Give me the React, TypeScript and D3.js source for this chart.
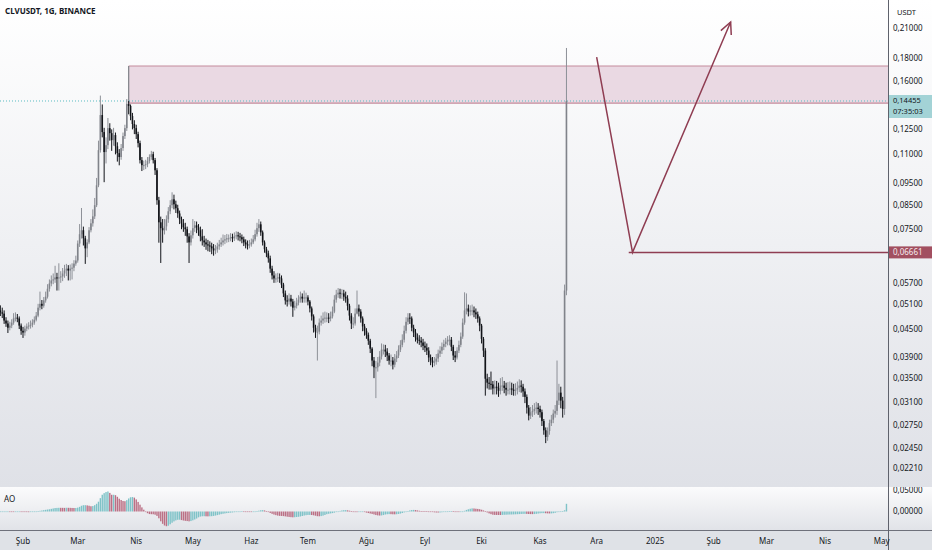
import React from 'react';
import * as d3 from 'd3';

const W = 932;
const H = 550;

// ---------------- data ----------------
const firstDay = '2024-01-20';
const firstOpen = 0.0495;
const closes = [
  0.0490,0.0487,0.0470,0.0463,0.0453,0.0458,0.0465,0.0475,0.0477,0.0475,
  0.0458,0.0446,0.0442,0.0451,0.0456,0.0458,0.0460,0.0465,0.0472,0.0482,
  0.0502,0.0512,0.0507,0.0521,0.0531,0.0553,0.0568,0.0577,0.0580,0.0586,
  0.0583,0.0586,0.0589,0.0598,0.0607,0.0613,0.0607,0.0613,0.0616,0.0629,
  0.0639,0.0697,0.0731,0.0746,0.0716,0.0680,0.0701,0.0746,0.0773,0.0801,
  0.0848,0.0939,0.1124,0.1345,0.1233,0.1113,0.1153,0.1258,0.1226,0.1183,
  0.1214,0.1147,0.1107,0.1085,0.1136,0.1208,0.1258,0.1424,0.1409,0.1338,
  0.1285,0.1258,0.1220,0.1165,0.1068,0.1041,0.1041,0.1046,0.1063,0.1085,
  0.1101,0.1068,0.1014,0.0870,0.0777,0.0754,0.0746,0.0761,0.0789,0.0822,
  0.0848,0.0874,0.0852,0.0835,0.0813,0.0789,0.0773,0.0757,0.0750,0.0723,
  0.0701,0.0727,0.0754,0.0765,0.0757,0.0746,0.0723,0.0708,0.0701,0.0694,
  0.0690,0.0687,0.0680,0.0673,0.0677,0.0687,0.0694,0.0701,0.0708,0.0712,
  0.0716,0.0716,0.0720,0.0716,0.0723,0.0727,0.0723,0.0720,0.0712,0.0701,
  0.0694,0.0690,0.0694,0.0701,0.0712,0.0731,0.0754,0.0769,0.0738,0.0701,
  0.0677,0.0663,0.0646,0.0613,0.0592,0.0583,0.0583,0.0586,0.0583,0.0565,
  0.0540,0.0521,0.0518,0.0526,0.0518,0.0502,0.0507,0.0515,0.0523,0.0531,
  0.0526,0.0529,0.0529,0.0518,0.0500,0.0480,0.0453,0.0444,0.0444,0.0465,
  0.0470,0.0475,0.0477,0.0477,0.0475,0.0480,0.0492,0.0523,0.0537,0.0542,
  0.0540,0.0540,0.0531,0.0526,0.0507,0.0482,0.0463,0.0463,0.0487,0.0500,
  0.0492,0.0475,0.0456,0.0446,0.0437,0.0424,0.0407,0.0383,0.0370,0.0370,
  0.0379,0.0391,0.0405,0.0405,0.0401,0.0393,0.0383,0.0383,0.0375,0.0387,
  0.0393,0.0405,0.0415,0.0426,0.0446,0.0467,0.0477,0.0475,0.0453,0.0442,
  0.0431,0.0426,0.0424,0.0420,0.0413,0.0409,0.0403,0.0389,0.0383,0.0379,
  0.0381,0.0387,0.0397,0.0403,0.0411,0.0417,0.0422,0.0426,0.0426,0.0411,
  0.0393,0.0389,0.0403,0.0415,0.0433,0.0465,0.0495,0.0500,0.0492,0.0495,
  0.0495,0.0490,0.0485,0.0475,0.0458,0.0428,0.0403,0.0349,0.0342,0.0340,
  0.0339,0.0332,0.0335,0.0333,0.0328,0.0337,0.0337,0.0333,0.0330,0.0330,
  0.0332,0.0330,0.0328,0.0330,0.0333,0.0337,0.0335,0.0327,0.0318,0.0301,
  0.0289,0.0294,0.0296,0.0299,0.0301,0.0299,0.0294,0.0281,0.0268,0.0259,
  0.0267,0.0278,0.0283,0.0292,0.0296,0.0312,0.0325,0.0312,0.0299,0.0548,
  0.14455,
];
const highs = [
  0.0508,0.0502,0.0495,0.0478,0.0470,0.0467,0.0473,0.0488,0.0490,0.0486,
  0.0480,0.0463,0.0455,0.0458,0.0463,0.0466,0.0470,0.0473,0.0480,0.0491,
  0.0512,0.0545,0.0522,0.0530,0.0545,0.0566,0.0580,0.0592,0.0598,0.0622,
  0.0600,0.0630,0.0605,0.0615,0.0625,0.0628,0.0624,0.0626,0.0630,0.0640,
  0.0655,0.0708,0.0770,0.0836,0.0760,0.0725,0.0712,0.0758,0.0790,0.0830,
  0.0880,0.0975,0.1180,0.1486,0.1420,0.1260,0.1200,0.1325,0.1290,0.1250,
  0.1260,0.1230,0.1170,0.1130,0.1160,0.1230,0.1280,0.1460,0.1445,0.1420,
  0.1360,0.1310,0.1280,0.1235,0.1180,0.1085,0.1065,0.1070,0.1085,0.1100,
  0.1120,0.1115,0.1080,0.1025,0.0885,0.0800,0.0790,0.0790,0.0805,0.0840,
  0.0870,0.0906,0.0895,0.0868,0.0850,0.0825,0.0800,0.0790,0.0775,0.0760,
  0.0735,0.0745,0.0790,0.0782,0.0780,0.0770,0.0760,0.0750,0.0725,0.0715,
  0.0710,0.0705,0.0700,0.0695,0.0692,0.0700,0.0710,0.0718,0.0730,0.0728,
  0.0732,0.0730,0.0735,0.0733,0.0738,0.0742,0.0740,0.0736,0.0730,0.0722,
  0.0712,0.0708,0.0710,0.0715,0.0728,0.0748,0.0775,0.0790,0.0780,0.0745,
  0.0708,0.0685,0.0672,0.0655,0.0622,0.0605,0.0598,0.0600,0.0598,0.0592,
  0.0570,0.0548,0.0535,0.0540,0.0536,0.0525,0.0520,0.0528,0.0535,0.0545,
  0.0540,0.0548,0.0542,0.0535,0.0522,0.0505,0.0485,0.0460,0.0458,0.0475,
  0.0482,0.0490,0.0492,0.0490,0.0488,0.0492,0.0505,0.0535,0.0550,0.0555,
  0.0553,0.0552,0.0550,0.0545,0.0535,0.0512,0.0488,0.0478,0.0500,0.0548,
  0.0510,0.0498,0.0480,0.0462,0.0452,0.0442,0.0428,0.0410,0.0390,0.0382,
  0.0390,0.0402,0.0418,0.0416,0.0415,0.0408,0.0398,0.0395,0.0390,0.0396,
  0.0402,0.0414,0.0425,0.0438,0.0458,0.0478,0.0488,0.0488,0.0480,0.0460,
  0.0450,0.0440,0.0436,0.0432,0.0428,0.0422,0.0418,0.0410,0.0395,0.0390,
  0.0390,0.0396,0.0405,0.0412,0.0420,0.0426,0.0430,0.0434,0.0436,0.0432,
  0.0415,0.0402,0.0410,0.0424,0.0442,0.0475,0.0543,0.0540,0.0510,0.0508,
  0.0510,0.0505,0.0500,0.0492,0.0480,0.0462,0.0432,0.0408,0.0358,0.0352,
  0.0362,0.0345,0.0346,0.0345,0.0342,0.0350,0.0352,0.0345,0.0342,0.0343,
  0.0344,0.0342,0.0340,0.0341,0.0344,0.0348,0.0346,0.0340,0.0332,0.0322,
  0.0305,0.0302,0.0305,0.0308,0.0310,0.0308,0.0304,0.0298,0.0284,0.0272,
  0.0272,0.0283,0.0290,0.0298,0.0305,0.0383,0.0340,0.0335,0.0318,0.0565,
  0.1896,
];
const lows = [
  0.0481,0.0476,0.0462,0.0455,0.0441,0.0447,0.0452,0.0460,0.0468,0.0466,
  0.0450,0.0437,0.0430,0.0435,0.0445,0.0449,0.0451,0.0454,0.0460,0.0468,
  0.0478,0.0495,0.0498,0.0502,0.0515,0.0526,0.0545,0.0560,0.0566,0.0570,
  0.0548,0.0548,0.0570,0.0575,0.0585,0.0590,0.0577,0.0577,0.0580,0.0605,
  0.0622,0.0632,0.0685,0.0715,0.0690,0.0628,0.0650,0.0695,0.0738,0.0760,
  0.0790,0.0840,0.0930,0.1110,0.1200,0.0954,0.1050,0.1130,0.1180,0.1120,
  0.1150,0.1100,0.1060,0.1040,0.1070,0.1120,0.1190,0.1240,0.1350,0.1310,
  0.1250,0.1220,0.1190,0.1140,0.1050,0.1010,0.1015,0.1020,0.1030,0.1050,
  0.1070,0.1050,0.0990,0.0850,0.0700,0.0631,0.0700,0.0730,0.0745,0.0775,
  0.0810,0.0835,0.0830,0.0815,0.0795,0.0770,0.0750,0.0740,0.0725,0.0700,
  0.0631,0.0690,0.0715,0.0740,0.0735,0.0725,0.0705,0.0690,0.0685,0.0675,
  0.0670,0.0668,0.0660,0.0655,0.0660,0.0665,0.0675,0.0685,0.0690,0.0695,
  0.0700,0.0702,0.0705,0.0702,0.0706,0.0712,0.0708,0.0705,0.0698,0.0688,
  0.0680,0.0676,0.0680,0.0686,0.0695,0.0705,0.0722,0.0740,0.0725,0.0690,
  0.0665,0.0650,0.0632,0.0600,0.0580,0.0570,0.0570,0.0572,0.0570,0.0555,
  0.0530,0.0510,0.0505,0.0510,0.0505,0.0479,0.0495,0.0500,0.0508,0.0515,
  0.0515,0.0515,0.0515,0.0508,0.0490,0.0470,0.0442,0.0430,0.0383,0.0438,
  0.0458,0.0462,0.0465,0.0466,0.0464,0.0468,0.0475,0.0488,0.0515,0.0528,
  0.0526,0.0525,0.0520,0.0515,0.0495,0.0470,0.0450,0.0452,0.0458,0.0485,
  0.0480,0.0465,0.0445,0.0435,0.0428,0.0415,0.0398,0.0372,0.0350,0.0316,
  0.0362,0.0372,0.0385,0.0395,0.0390,0.0382,0.0375,0.0372,0.0366,0.0370,
  0.0380,0.0388,0.0400,0.0410,0.0420,0.0440,0.0460,0.0462,0.0445,0.0432,
  0.0422,0.0418,0.0415,0.0410,0.0404,0.0400,0.0394,0.0380,0.0374,0.0370,
  0.0372,0.0375,0.0380,0.0390,0.0396,0.0404,0.0410,0.0414,0.0414,0.0402,
  0.0384,0.0380,0.0385,0.0398,0.0410,0.0428,0.0460,0.0485,0.0480,0.0482,
  0.0483,0.0478,0.0474,0.0465,0.0445,0.0418,0.0390,0.0320,0.0332,0.0330,
  0.0330,0.0322,0.0322,0.0322,0.0318,0.0322,0.0328,0.0324,0.0320,0.0322,
  0.0322,0.0321,0.0320,0.0320,0.0322,0.0326,0.0325,0.0318,0.0308,0.0292,
  0.0282,0.0284,0.0287,0.0290,0.0292,0.0290,0.0286,0.0274,0.0262,0.0251,
  0.0254,0.0262,0.0274,0.0278,0.0286,0.0290,0.0305,0.0300,0.0286,0.0290,
  0.0535,
];

const priceTicks = [0.21, 0.18, 0.16, 0.125, 0.11, 0.095, 0.085, 0.075,
  0.057, 0.051, 0.045, 0.039, 0.035, 0.031, 0.0275, 0.0245, 0.0221];
const aoTicks = [0.05, 0];
const monthNames = ['Oca', 'Şub', 'Mar', 'Nis', 'May', 'Haz', 'Tem', 'Ağu', 'Eyl', 'Eki', 'Kas', 'Ara'];

const title = 'CLVUSDT, 1G, BINANCE';
const currency = 'USDT';
const currentPrice = 0.14455;
const countdown = '07:35:03';
const zoneStart = '2024-03-28';
const zoneTop = 0.1729;
const zoneBottom = 0.1430;
const pathDates = ['2024-12-01', '2024-12-20', '2025-02-10'];
const pathPrices = [0.181, 0.06661, 0.2165];
const levelStart = '2024-12-18';
const levelPrice = 0.06661;

// ---------------- layout ----------------
const plotRight = 888;
const mainBottom = 487;
const aoTop = 487;
const aoBottom = 530;

const fmt = (v: number) => d3.format('.5f')(v).replace('.', ',');
const FONT = '"Noto Sans", "Open Sans", sans-serif';
const TEXT = '#131722';

export default function App() {
  const parse = (s: string) => d3.utcParse('%Y-%m-%d')(s) as Date;
  const day0 = parse(firstDay);

  const x = d3.scaleUtc()
    .domain([new Date(Date.UTC(2024, 1, 1)), new Date(Date.UTC(2025, 4, 1))])
    .range([23, 881.6]);
  const y = d3.scaleLog().domain([0.0221, 0.21]).range([468, 28]);

  const candles = closes.map((c, i) => {
    const o = i === 0 ? firstOpen : closes[i - 1];
    return { date: d3.utcDay.offset(day0, i), o, c, h: highs[i], l: lows[i] };
  });

  // Awesome Oscillator from the candles
  const med = candles.map(d => (d.h + d.l) / 2);
  const sma = (i: number, n: number) => {
    const s = Math.max(0, i - n + 1);
    return d3.mean(med.slice(s, i + 1)) as number;
  };
  const ao = med.map((_, i) => sma(i, 5) - sma(i, 34));
  const yAo = d3.scaleLinear().domain([0, 0.05]).range([511.5, 490]);

  const allMonths = d3.utcMonth.range(new Date(Date.UTC(2024, 0, 1)), new Date(Date.UTC(2025, 5, 1)))
    .filter(d => x(d) > 5 && x(d) < plotRight - 5);

  const pathPts = pathDates.map((d, i) => [x(parse(d)), y(pathPrices[i])] as [number, number]);
  const line = d3.line();
  const tip = pathPts[pathPts.length - 1];
  const prev = pathPts[pathPts.length - 2];
  const ang = Math.atan2(tip[1] - prev[1], tip[0] - prev[0]);
  const headLen = 13;
  const head1: [number, number] = [tip[0] - headLen * Math.cos(ang - 0.45), tip[1] - headLen * Math.sin(ang - 0.45)];
  const head2: [number, number] = [tip[0] - headLen * Math.cos(ang + 0.45), tip[1] - headLen * Math.sin(ang + 0.45)];

  const zx = x(parse(zoneStart));
  const bw = 1.6;
  const upCol = '#80838a';
  const upWick = '#8d9097';
  const downCol = '#111318';
  const drawCol = '#8f3d52';

  const yCur = y(currentPrice);
  const yLev = y(levelPrice);

  return (
    <svg width={W} height={H} style={{ position: 'absolute', left: 0, top: 0, fontFamily: FONT }}>
      <defs>
        <linearGradient id="bgMain" x1="0" y1="0" x2="0" y2="1">
          <stop offset="0" stopColor="#ffffff" />
          <stop offset="1" stopColor="#dfe1e7" />
        </linearGradient>
        <linearGradient id="bgAo" x1="0" y1="0" x2="0" y2="1">
          <stop offset="0" stopColor="#fbfbfc" />
          <stop offset="1" stopColor="#e1e3e8" />
        </linearGradient>
        <clipPath id="clipMain"><rect x={0} y={0} width={plotRight} height={mainBottom} /></clipPath>
        <clipPath id="clipAo"><rect x={0} y={aoTop} width={W} height={aoBottom - aoTop} /></clipPath>
      </defs>

      {/* backgrounds */}
      <rect x={0} y={0} width={W} height={mainBottom} fill="url(#bgMain)" />
      <rect x={0} y={aoTop} width={W} height={aoBottom - aoTop} fill="url(#bgAo)" />
      <rect x={0} y={aoBottom} width={W} height={H - aoBottom} fill="#dfe2e7" />

      <g clipPath="url(#clipMain)">
        {/* zone */}
        <rect x={zx} y={y(zoneTop)} width={plotRight - zx} height={y(zoneBottom) - y(zoneTop)} fill="#ead9e3" />
        <line x1={zx} x2={plotRight} y1={y(zoneTop)} y2={y(zoneTop)} stroke="#c48b9c" strokeWidth={1.2} />
        <line x1={zx} x2={plotRight} y1={y(zoneBottom)} y2={y(zoneBottom)} stroke="#c48b9c" strokeWidth={1.2} />
        <line x1={zx} x2={zx} y1={y(zoneTop)} y2={y(zoneBottom)} stroke="#85878d" strokeWidth={1.3} />

        {/* current price line */}
        <line x1={0} x2={plotRight} y1={yCur} y2={yCur} stroke="#5bbcc2" strokeWidth={1} strokeDasharray="1 2" />

        {/* candles */}
        {candles.map((d, i) => {
          const cx = x(d.date);
          const up = d.c >= d.o;
          const top = y(Math.max(d.o, d.c));
          const bot = y(Math.min(d.o, d.c));
          return (
            <g key={i}>
              <line x1={cx} x2={cx} y1={y(d.h)} y2={y(d.l)} stroke={up ? upWick : downCol} strokeWidth={1} />
              <rect x={cx - bw / 2} y={top} width={bw} height={Math.max(1, bot - top)} fill={up ? upCol : downCol} />
            </g>
          );
        })}

        {/* drawings */}
        <line x1={x(parse(levelStart))} x2={plotRight} y1={yLev} y2={yLev} stroke={drawCol} strokeWidth={1.5} />
        <path d={line(pathPts) as string} fill="none" stroke={drawCol} strokeWidth={1.5} />
        <path d={line([head1, tip, head2]) as string} fill="none" stroke={drawCol} strokeWidth={1.5} />
      </g>

      {/* AO pane */}
      <g clipPath="url(#clipAo)">
        {ao.map((v, i) => {
          const cx = x(candles[i].date);
          const rising = i === 0 ? v >= 0 : v >= ao[i - 1];
          const y0 = yAo(0);
          const y1 = yAo(v);
          return (
            <rect key={i} x={cx - 0.7} y={Math.min(y0, y1)} width={1.4} height={Math.max(0.6, Math.abs(y1 - y0))}
              fill={rising ? '#7fc3c8' : '#bb7085'} />
          );
        })}
        {aoTicks.map(t => (
          <text key={t} x={893} y={yAo(t)} dy="0.35em" fontSize={8} fill={TEXT}>{fmt(t)}</text>
        ))}
      </g>
      <text x={4} y={499} dy="0.35em" fontSize={8} fill={TEXT}>AO</text>

      {/* separators */}
      <line x1={0} x2={W} y1={aoBottom + 0.5} y2={aoBottom + 0.5} stroke="#6e717b" strokeWidth={1} />
      <line x1={plotRight + 0.5} x2={plotRight + 0.5} y1={0} y2={H} stroke="#5f626c" strokeWidth={1} />

      {/* price axis */}
      <text x={897} y={12} dy="0.35em" fontSize={7.5} fill={TEXT}>{currency}</text>
      {priceTicks.map(t => (
        <text key={t} x={893} y={y(t)} dy="0.35em" fontSize={8} fill={TEXT}>{fmt(t)}</text>
      ))}
      {/* current price label */}
      <rect x={plotRight + 1} y={yCur - 6} width={W - plotRight - 1} height={23} fill="#a3d3d6" />
      <text x={893} y={yCur - 1} dy="0.35em" fontSize={7.5} fill={TEXT}>{fmt(currentPrice)}</text>
      <text x={893} y={yCur + 10.5} dy="0.35em" fontSize={7.5} fill={TEXT}>{countdown}</text>
      {/* level label */}
      <rect x={plotRight + 1} y={yLev - 6} width={W - plotRight - 1} height={12} fill="#a24f60" />
      <text x={893} y={yLev} dy="0.35em" fontSize={8} fill="#f6e9ed">{fmt(levelPrice)}</text>

      {/* time axis */}
      {allMonths.map(d => (
        <text key={+d} x={x(d)} y={541} dy="0.35em" fontSize={8} textAnchor="middle" fill={TEXT}>
          {d.getUTCMonth() === 0 ? String(d.getUTCFullYear()) : monthNames[d.getUTCMonth()]}
        </text>
      ))}

      {/* title */}
      <text x={5} y={11} dy="0.35em" fontSize={8} fontWeight="bold" fill={TEXT}>{title}</text>
    </svg>
  );
}
